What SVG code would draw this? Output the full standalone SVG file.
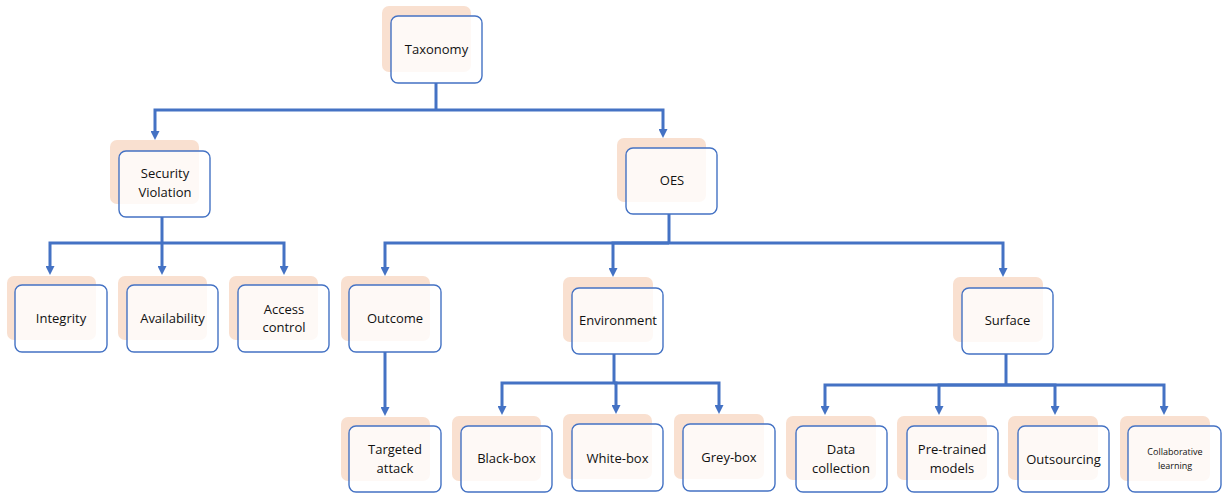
<svg xmlns="http://www.w3.org/2000/svg" width="1222" height="493" viewBox="0 0 1222 493">
  <style>
    .shadow { fill: #F9E0D0; }
    .box { fill: #FFFFFF; fill-opacity: 0.8; stroke: #4472C4; stroke-width: 1.4; }
    .label { font-family: "Open Sans", "Liberation Sans", sans-serif; font-size: 13px; fill: #111; text-anchor: middle; }
    .small { font-size: 9px; }
    .link { fill: none; stroke: #4472C4; stroke-width: 3; stroke-linejoin: miter; }
  </style>
  <defs>
    <marker id="arrow" viewBox="0 0 10 10" refX="3.3" refY="5" markerWidth="9" markerHeight="9" markerUnits="userSpaceOnUse" orient="auto">
      <path d="M0,0 L10,5 L0,10 Z" fill="#4472C4"/>
    </marker>
  </defs>

  <rect width="1222" height="493" fill="#FFFFFF"/>

  <g id="connectors">
    <!-- Taxonomy -> Security Violation / OES -->
    <path class="link" d="M436,83 V110"/>
    <path class="link" d="M436,110 H155 V134" marker-end="url(#arrow)"/>
    <path class="link" d="M436,110 H663 V132" marker-end="url(#arrow)"/>
    <!-- Security Violation -> Integrity / Availability / Access control -->
    <path class="link" d="M162,217 V269" marker-end="url(#arrow)"/>
    <path class="link" d="M162,243 H50 V269" marker-end="url(#arrow)"/>
    <path class="link" d="M162,243 H284 V269" marker-end="url(#arrow)"/>
    <!-- OES -> Outcome / Environment / Surface -->
    <path class="link" d="M669,214 V243"/>
    <path class="link" d="M669,243 H385 V270" marker-end="url(#arrow)"/>
    <path class="link" d="M669,243 H613 V271" marker-end="url(#arrow)"/>
    <path class="link" d="M669,243 H1003 V271" marker-end="url(#arrow)"/>
    <!-- Outcome -> Targeted attack -->
    <path class="link" d="M385,352 V410" marker-end="url(#arrow)"/>
    <!-- Environment -> Black-box / White-box / Grey-box -->
    <path class="link" d="M614,354 V383"/>
    <path class="link" d="M614,383 H502 V409" marker-end="url(#arrow)"/>
    <path class="link" d="M614,383 H616 V408" marker-end="url(#arrow)"/>
    <path class="link" d="M614,383 H719 V408" marker-end="url(#arrow)"/>
    <!-- Surface -> Data collection / Pre-trained models / Outsourcing / Collaborative learning -->
    <path class="link" d="M1006,354 V385"/>
    <path class="link" d="M1006,385 H825 V409" marker-end="url(#arrow)"/>
    <path class="link" d="M1006,385 H939 V409" marker-end="url(#arrow)"/>
    <path class="link" d="M1006,385 H1055 V409" marker-end="url(#arrow)"/>
    <path class="link" d="M1006,385 H1164 V409" marker-end="url(#arrow)"/>
  </g>

  <g id="taxonomy">
    <rect class="shadow" x="382" y="6" width="89" height="66" rx="7"/>
    <rect class="box" x="391" y="16" width="91" height="67" rx="7"/>
    <text class="label" x="436.5" y="54">Taxonomy</text>
  </g>

  <g id="security-violation">
    <rect class="shadow" x="110" y="140" width="89" height="64" rx="7"/>
    <rect class="box" x="119" y="151" width="91" height="66" rx="7"/>
    <text class="label" x="165" y="178">Security</text>
    <text class="label" x="165" y="197">Violation</text>
  </g>

  <g id="oes">
    <rect class="shadow" x="617" y="138" width="89" height="64" rx="7"/>
    <rect class="box" x="626" y="148" width="91" height="66" rx="7"/>
    <text class="label" x="672" y="185">OES</text>
  </g>

  <g id="integrity">
    <rect class="shadow" x="7" y="276" width="89" height="64" rx="7"/>
    <rect class="box" x="15" y="285" width="92" height="67" rx="7"/>
    <text class="label" x="61" y="323">Integrity</text>
  </g>

  <g id="availability">
    <rect class="shadow" x="118" y="276" width="89" height="64" rx="7"/>
    <rect class="box" x="127" y="285" width="91" height="67" rx="7"/>
    <text class="label" x="172.5" y="323">Availability</text>
  </g>

  <g id="access-control">
    <rect class="shadow" x="229" y="276" width="89" height="64" rx="7"/>
    <rect class="box" x="238" y="285" width="91" height="67" rx="7"/>
    <text class="label" x="284" y="314">Access</text>
    <text class="label" x="284" y="332">control</text>
  </g>

  <g id="outcome">
    <rect class="shadow" x="341" y="276" width="89" height="65" rx="7"/>
    <rect class="box" x="349" y="285" width="92" height="67" rx="7"/>
    <text class="label" x="395" y="323">Outcome</text>
  </g>

  <g id="environment">
    <rect class="shadow" x="563" y="277" width="90" height="65" rx="7"/>
    <rect class="box" x="572" y="288" width="91" height="66" rx="7"/>
    <text class="label" x="618" y="325">Environment</text>
  </g>

  <g id="surface">
    <rect class="shadow" x="953" y="277" width="90" height="65" rx="7"/>
    <rect class="box" x="962" y="288" width="91" height="66" rx="7"/>
    <text class="label" x="1007.5" y="325">Surface</text>
  </g>

  <g id="targeted-attack">
    <rect class="shadow" x="341" y="417" width="89" height="64" rx="7"/>
    <rect class="box" x="349" y="426" width="92" height="66" rx="7"/>
    <text class="label" x="395" y="454">Targeted</text>
    <text class="label" x="395" y="473">attack</text>
  </g>

  <g id="black-box">
    <rect class="shadow" x="452" y="416" width="89" height="65" rx="7"/>
    <rect class="box" x="461" y="426" width="91" height="66" rx="7"/>
    <text class="label" x="506.5" y="463">Black-box</text>
  </g>

  <g id="white-box">
    <rect class="shadow" x="563" y="414" width="89" height="65" rx="7"/>
    <rect class="box" x="572" y="424" width="91" height="67" rx="7"/>
    <text class="label" x="617.5" y="463">White-box</text>
  </g>

  <g id="grey-box">
    <rect class="shadow" x="674" y="414" width="90" height="65" rx="7"/>
    <rect class="box" x="683" y="424" width="92" height="67" rx="7"/>
    <text class="label" x="729" y="462">Grey-box</text>
  </g>

  <g id="data-collection">
    <rect class="shadow" x="786" y="416" width="90" height="64" rx="7"/>
    <rect class="box" x="796" y="426" width="91" height="66" rx="7"/>
    <text class="label" x="841" y="454">Data</text>
    <text class="label" x="841" y="473">collection</text>
  </g>

  <g id="pre-trained-models">
    <rect class="shadow" x="897" y="416" width="90" height="64" rx="7"/>
    <rect class="box" x="907" y="426" width="91" height="66" rx="7"/>
    <text class="label" x="952" y="454">Pre-trained</text>
    <text class="label" x="952" y="473">models</text>
  </g>

  <g id="outsourcing">
    <rect class="shadow" x="1008" y="416" width="90" height="64" rx="7"/>
    <rect class="box" x="1018" y="426" width="91" height="66" rx="7"/>
    <text class="label" x="1063.5" y="464">Outsourcing</text>
  </g>

  <g id="collaborative-learning">
    <rect class="shadow" x="1120" y="416" width="90" height="65" rx="7"/>
    <rect class="box" x="1128" y="426" width="93" height="66" rx="7"/>
    <text class="label small" x="1175" y="455">Collaborative</text>
    <text class="label small" x="1175" y="469">learning</text>
  </g>
</svg>
